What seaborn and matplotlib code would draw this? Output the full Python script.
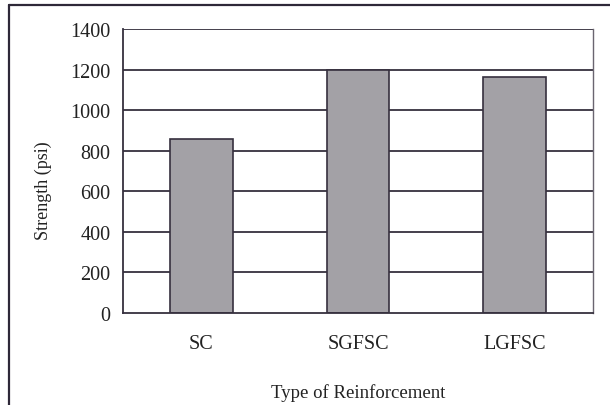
import pandas as pd
import matplotlib.pyplot as plt
import seaborn as sns
from matplotlib.lines import Line2D

# values
categories = ['SC', 'SGFSC', 'LGFSC']
strength = [860, 1200, 1165]
y_ticks = [0, 200, 400, 600, 800, 1000, 1200, 1400]

df = pd.DataFrame({'type': categories, 'strength': strength})

sns.set_style('white')
plt.rcParams['font.family'] = ['Liberation Serif', 'DejaVu Serif']

dark = '#36303e'
txt = '#222222'
fs = 14.5

fig = plt.figure(figsize=(6.1, 4.06), dpi=100)
ax = fig.add_axes([123 / 610, 1 - 314 / 406, 470 / 610, 284 / 406])

# horizontal gridlines behind the bars
for v in y_ticks[1:]:
    ax.axhline(v, color=dark, lw=1.3, zorder=0)

sns.barplot(data=df, x='type', y='strength', color='#a3a1a6', width=0.4,
            edgecolor=dark, linewidth=1.2, saturation=1, ax=ax, zorder=2)

ax.set_xlim(-0.5, 2.5)
ax.set_ylim(0, 1400)
ax.set_yticks(y_ticks)
ax.set_yticklabels([str(v) for v in y_ticks])

# category boundaries get the tick marks, labels sit in the middle
ax.set_xticks([-0.5, 0.5, 1.5, 2.5], minor=True)
ax.tick_params(axis='x', which='major', length=0, pad=15, labelsize=fs, labelcolor=txt)
ax.tick_params(axis='x', which='minor', length=4, width=1.2, color=dark, direction='out')
ax.tick_params(axis='y', length=4, width=1.2, color=dark, direction='out', pad=5,
               labelsize=fs, labelcolor=txt)

for side in ['left', 'bottom']:
    ax.spines[side].set_color(dark)
    ax.spines[side].set_linewidth(1.3)
ax.spines['top'].set_visible(False)
ax.spines['right'].set_color('#6a6570')
ax.spines['right'].set_linewidth(1.0)

ax.set_xlabel('Type of Reinforcement', fontsize=13.5, color=txt)
ax.xaxis.set_label_coords(0.5, (314 - 384) / 284)
ax.set_ylabel('Strength (psi)', fontsize=13, color=txt)
ax.yaxis.set_label_coords((52 - 123) / 470, (314 - 191) / 284)

# frame of the scanned figure (only left and top edges fall inside the crop)
fig.add_artist(Line2D([9 / 610, 9 / 610], [0, 1 - 6 / 406], color='#2e2838', lw=1.6))
fig.add_artist(Line2D([9 / 610, 1], [1 - 6 / 406, 1 - 6 / 406], color='#2e2838', lw=1.6))

fig.savefig('out.png', dpi=100)
plt.close(fig)
